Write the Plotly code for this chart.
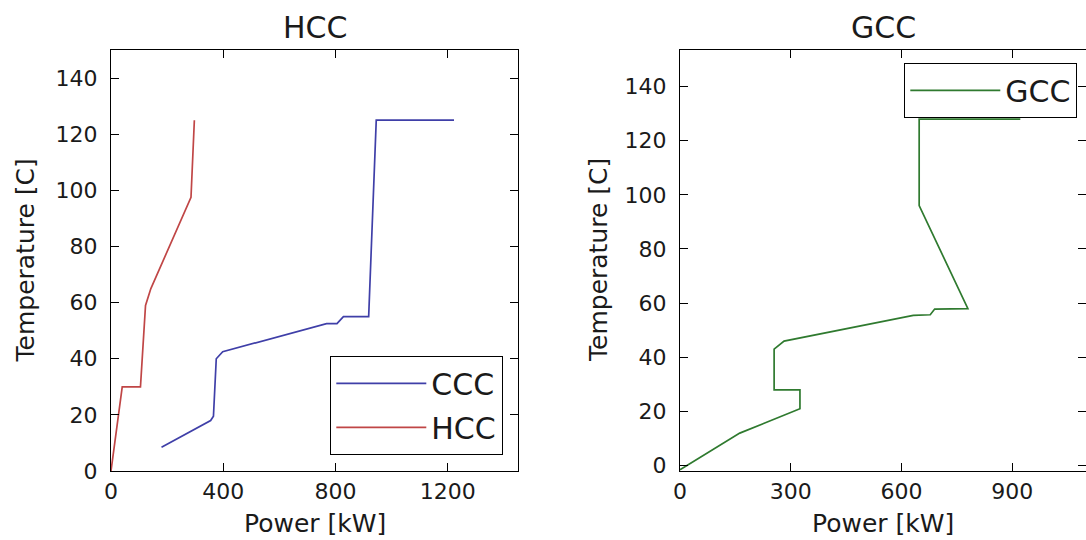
import plotly.graph_objects as go

# ---- data ----
ccc_power = [180, 355, 365, 375, 398, 700, 768, 805, 828, 918, 945, 1222]
ccc_temp = [8.5, 18, 19.5, 40, 42.5, 50.5, 52.5, 52.5, 55, 55, 125, 125]

hcc_power = [0, 25, 40, 105, 123, 142, 285, 297]
hcc_temp = [0, 19, 30, 30, 59, 65, 97.5, 125]

gcc_power = [0, 162, 325, 325, 255, 255, 282, 632, 678, 690, 780, 648, 648, 922]
gcc_temp = [-1.5, 12, 21, 28, 28, 43, 46, 55.5, 55.7, 57.8, 58, 96, 128, 128]

left_xticks = [0, 400, 800, 1200]
right_xticks = [0, 300, 600, 900]
yticks = [0, 20, 40, 60, 80, 100, 120, 140]

W, H = 1086, 540
FONT = "DejaVu Sans"
TXT = "#1a1a1a"

fig = go.Figure()
fig.add_trace(go.Scatter(x=ccc_power, y=ccc_temp, mode="lines", name="CCC",
                         line=dict(color="#3f3fa8", width=1.7),
                         xaxis="x", yaxis="y", legend="legend", legendgroup="a"))
fig.add_trace(go.Scatter(x=hcc_power, y=hcc_temp, mode="lines", name="HCC",
                         line=dict(color="#c04646", width=1.7),
                         xaxis="x", yaxis="y", legend="legend", legendgroup="b"))
fig.add_trace(go.Scatter(x=gcc_power, y=gcc_temp, mode="lines", name="GCC",
                         line=dict(color="#2f7a2f", width=1.7),
                         xaxis="x2", yaxis="y2", legend="legend2"))

def px_x(p):
    return p / W

def px_y(p):
    return 1 - p / H

axis_common = dict(showline=True, linecolor="black", linewidth=1.3, mirror="allticks",
                   ticks="inside", ticklen=8, tickcolor="black", showgrid=False,
                   zeroline=False, tickfont=dict(family=FONT, size=22, color=TXT),
                   automargin=False)

TOP, BOT = 50, 471

fig.update_layout(
    width=W, height=H,
    margin=dict(l=0, r=0, t=0, b=0),
    paper_bgcolor="white", plot_bgcolor="white",
    font=dict(family=FONT, color=TXT),
    xaxis=dict(domain=[px_x(111), px_x(518)], range=[0, 1450], tickvals=left_xticks,
               anchor="y", ticklabelstandoff=0, **axis_common),
    yaxis=dict(domain=[px_y(BOT), px_y(TOP)], range=[0, 150], tickvals=yticks,
               anchor="x", ticklabelstandoff=8, **axis_common),
    xaxis2=dict(domain=[px_x(680), 1.0], range=[0, 1100], tickvals=right_xticks,
                anchor="y2", ticklabelstandoff=0, **axis_common),
    yaxis2=dict(domain=[px_y(BOT), px_y(TOP)], range=[-2, 153.5], tickvals=yticks,
                anchor="x2", ticklabelstandoff=8, **axis_common),
    legend=dict(x=px_x(503), y=px_y(455), xanchor="right", yanchor="bottom",
                bordercolor="black", borderwidth=1.3, bgcolor="white",
                font=dict(family=FONT, size=30, color=TXT),
                tracegroupgap=2, itemwidth=90),
    legend2=dict(x=px_x(1077), y=px_y(63), xanchor="right", yanchor="top",
                 bordercolor="black", borderwidth=1.3, bgcolor="white",
                 font=dict(family=FONT, size=30, color=TXT), itemwidth=90),
    showlegend=True,
)

def ann(text, x, y, size, angle=0):
    fig.add_annotation(text=text, x=px_x(x), y=px_y(y), xref="paper", yref="paper",
                       xanchor="center", yanchor="middle", showarrow=False, textangle=angle,
                       font=dict(family=FONT, size=size, color=TXT))

ann("HCC", 314.5, 27, 30)
ann("GCC", 883, 27, 30)
ann("Power [kW]", 314.5, 523, 25)
ann("Power [kW]", 883, 523, 25)
ann("Temperature [C]", 25, 260.5, 25, -90)
ann("Temperature [C]", 598.5, 260.5, 25, -90)

fig.write_html("out.html")
